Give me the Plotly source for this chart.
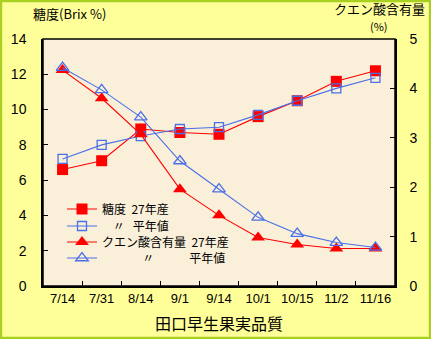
import plotly.graph_objects as go

dates = ["7/14", "7/31", "8/14", "9/1", "9/14", "10/1", "10/15", "11/2", "11/16"]
sugar_27 = [6.6, 7.1, 8.9, 8.7, 8.6, 9.6, 10.5, 11.6, 12.2]
sugar_avg = [7.2, 8.0, 8.5, 8.9, 9.0, 9.7, 10.5, 11.2, 11.8]
acid_27 = [4.37, 3.8, 3.07, 1.96, 1.43, 0.98, 0.84, 0.76, 0.76]
acid_avg = [4.42, 3.97, 3.42, 2.53, 1.96, 1.39, 1.06, 0.88, 0.78]

left_ticks = [0, 2, 4, 6, 8, 10, 12, 14]
right_ticks = [0, 1, 2, 3, 4, 5]

RED = "#FF0000"
BLUE = "#4A6FE8"
FONT = "Noto Sans CJK JP"

fig = go.Figure()
fig.add_trace(go.Scatter(
    x=dates, y=sugar_27, name="糖度  27年産", mode="lines+markers", legend="legend",
    line=dict(color=RED, width=1.1),
    marker=dict(symbol="square", size=11, color=RED, line=dict(width=0)),
))
fig.add_trace(go.Scatter(
    x=dates, y=sugar_avg, name="    〃   平年値", mode="lines+markers", legend="legend2",
    line=dict(color=BLUE, width=1.1),
    marker=dict(symbol="square-open", size=9, color=BLUE, line=dict(width=1.3)),
))
fig.add_trace(go.Scatter(
    x=dates, y=acid_27, name="クエン酸含有量  27年産", mode="lines+markers", yaxis="y2",
    legend="legend3",
    line=dict(color=RED, width=1.1),
    marker=dict(symbol="triangle-up", size=12, color=RED, line=dict(width=0)),
))
fig.add_trace(go.Scatter(
    x=dates, y=acid_avg, name="               〃             平年値", mode="lines+markers",
    yaxis="y2", legend="legend4",
    line=dict(color=BLUE, width=1.1),
    marker=dict(symbol="triangle-up-open", size=11, color=BLUE, line=dict(width=1.3)),
))

PLOT_H = 247.0
PLOT_W = 352.0


def leg(ypix):
    return dict(
        x=(62 - 43) / PLOT_W, y=(286 - ypix) / PLOT_H, xanchor="left", yanchor="middle",
        bgcolor="rgba(0,0,0,0)", borderwidth=0,
        font=dict(family=FONT, size=12, color="#000"),
    )


fig.update_layout(
    width=431, height=339,
    margin=dict(l=43, r=36, t=39, b=53, autoexpand=False),
    paper_bgcolor="#FFFF99",
    plot_bgcolor="#FAF0DA",
    font=dict(family=FONT, size=12, color="#000000"),
    showlegend=True,
    legend=leg(209),
    legend2=leg(226),
    legend3=leg(242),
    legend4=leg(258),
    xaxis=dict(
        type="category", range=[-0.5, 8.5],
        showline=True, linecolor="#000", linewidth=1.5, mirror=False,
        ticks="inside", tickson="boundaries", ticklen=5, tickcolor="#000",
        showgrid=False, zeroline=False, tickangle=0, automargin=False,
        tickfont=dict(family="Liberation Sans, Arial", size=13),
        title=dict(text="田口早生果実品質", font=dict(family=FONT, size=16), standoff=13),
    ),
    yaxis=dict(
        range=[0, 14], tickvals=left_ticks, automargin=False,
        showline=True, linecolor="#000", linewidth=1.5,
        ticks="inside", ticklen=5, tickcolor="#000",
        showgrid=False, zeroline=False,
        tickfont=dict(family="Liberation Sans, Arial", size=14),
        ticklabelstandoff=12,
    ),
    yaxis2=dict(
        range=[0, 5], tickvals=right_ticks, overlaying="y", side="right", automargin=False,
        showline=True, linecolor="#000", linewidth=1.5,
        ticks="inside", ticklen=5, tickcolor="#000",
        showgrid=False, zeroline=False,
        tickfont=dict(family="Liberation Sans, Arial", size=14),
        ticklabelstandoff=10,
    ),
    annotations=[
        dict(text="糖度(Brix %)", xref="paper", yref="paper", x=-0.035, y=1.055,
             xanchor="left", yanchor="bottom", showarrow=False,
             font=dict(family=FONT, size=13)),
        dict(text="クエン酸含有量", xref="paper", yref="paper", x=1.092, y=1.077,
             xanchor="right", yanchor="bottom", showarrow=False,
             font=dict(family=FONT, size=13)),
        dict(text="(%)", xref="paper", yref="paper", x=0.955, y=1.012,
             xanchor="center", yanchor="bottom", showarrow=False,
             font=dict(family=FONT, size=11)),
    ],
    shapes=[
        dict(type="rect", xref="paper", yref="paper", x0=0, y0=0, x1=1, y1=1,
             line=dict(color="#000", width=1.5), fillcolor="rgba(0,0,0,0)", layer="above"),
        dict(type="rect", xref="paper", yref="paper",
             x0=-43 / PLOT_W + 0.002, x1=1 + 36 / PLOT_W - 0.002,
             y0=-53 / PLOT_H + 0.003, y1=1 + 39 / PLOT_H - 0.003,
             line=dict(color="#A8D020", width=3), fillcolor="rgba(0,0,0,0)", layer="above"),
    ],
)

fig.write_html("out.html")
